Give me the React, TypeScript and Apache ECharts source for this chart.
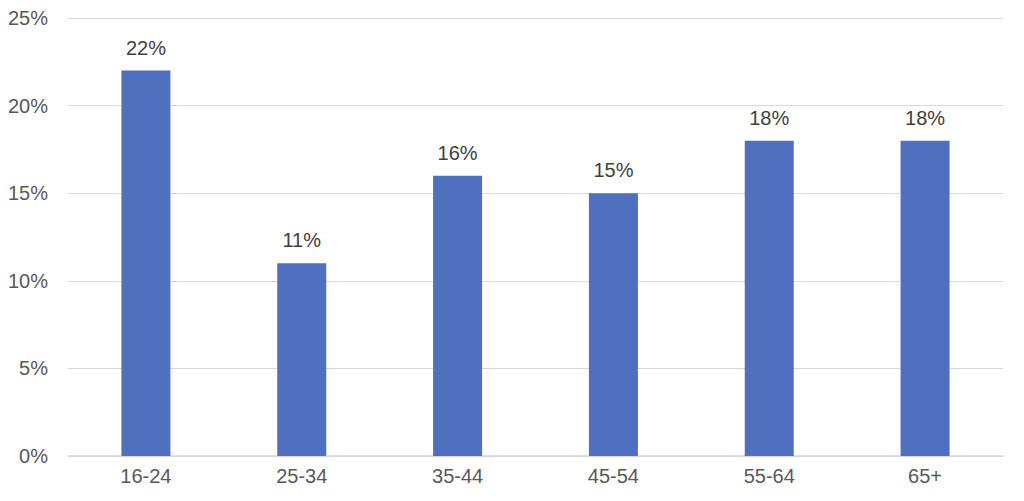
import React, { useEffect, useRef } from "react";
import * as echarts from "echarts";

const categories = ["16-24", "25-34", "35-44", "45-54", "55-64", "65+"];
const values = [22, 11, 16, 15, 18, 18];
const yTicks = [0, 5, 10, 15, 20, 25];

export default function App() {
  const ref = useRef<HTMLDivElement>(null);
  useEffect(() => {
    if (!ref.current) return;
    const chart = echarts.init(ref.current, null, { renderer: "svg" });
    const font = "Liberation Sans, Arial, sans-serif";
    chart.setOption({
      animation: false,
      grid: {
        left: 60,
        right: 13,
        top: 10,
        bottom: 37,
        containLabel: false,
        outerBoundsMode: "none",
      },
      xAxis: {
        type: "category",
        data: categories,
        axisLine: { show: true, lineStyle: { color: "#d9d9d9", width: 1.5 } },
        axisTick: { show: false },
        axisLabel: { color: "#595959", fontSize: 20, fontFamily: font, margin: 10 },
      },
      yAxis: {
        type: "value",
        min: yTicks[0],
        max: yTicks[yTicks.length - 1],
        interval: 5,
        axisLine: { show: false },
        axisTick: { show: false },
        splitLine: { lineStyle: { color: "#d9d9d9", width: 1 } },
        axisLabel: {
          color: "#595959",
          fontSize: 20,
          fontFamily: font,
          margin: 20,
          formatter: (v: number) => `${v}%`,
        },
      },
      series: [
        {
          type: "bar",
          data: values,
          barWidth: 49,
          itemStyle: { color: "#4e70bf" },
          label: {
            show: true,
            position: "top",
            distance: 13,
            color: "#404040",
            fontSize: 20,
            fontFamily: font,
            formatter: (p: any) => `${p.value}%`,
          },
        },
      ],
    });
    return () => chart.dispose();
  }, []);
  return <div ref={ref} style={{ width: "100%", height: 485 }} />;
}
